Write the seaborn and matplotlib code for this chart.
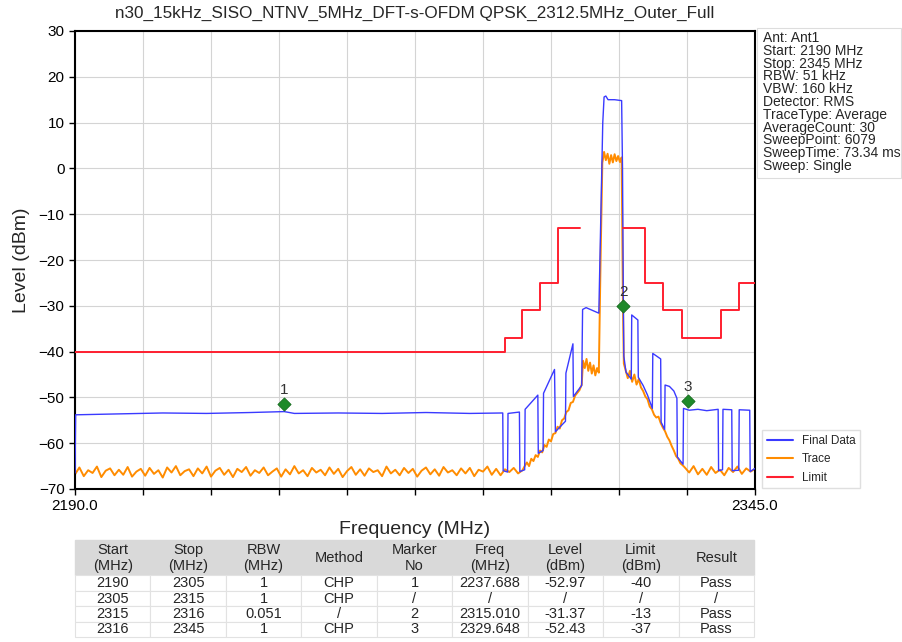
import matplotlib
matplotlib.use("Agg")
import matplotlib.pyplot as plt
from matplotlib import font_manager
from matplotlib.lines import Line2D
from matplotlib.patches import Rectangle
import numpy as np
import pandas as pd
import seaborn as sns

TITLE = "n30_15kHz_SISO_NTNV_5MHz_DFT-s-OFDM QPSK_2312.5MHz_Outer_Full"

# blue "Final Data" trace
final_freq = [2190.0, 2190.15, 2200.0, 2210.0, 2220.0, 2230.0, 2237.7, 2240.0, 2250.0, 2260.0, 2270.0, 2280.0, 2287.5,
              2287.6, 2288.6, 2288.7, 2291.3,
              2291.4, 2292.5, 2292.6, 2295.5,
              2295.6, 2296.7, 2296.8, 2299.3,
              2299.5, 2301.8, 2301.9, 2303.5,
              2303.6, 2305.5, 2305.7, 2306.5, 2308.9, 2309.4, 2310.3, 2310.6, 2311.0, 2311.5, 2313.0, 2314.6,
              2314.8, 2315.0, 2315.1, 2315.6, 2316.8,
              2316.9, 2318.3, 2318.4, 2319.5, 2320.5, 2321.6,
              2321.7, 2323.5, 2323.6, 2324.4,
              2324.5, 2325.5, 2326.5, 2327.2,
              2327.3, 2328.6,
              2328.7, 2330.0, 2332.0, 2334.0, 2336.6,
              2336.7, 2337.6, 2337.7, 2339.7,
              2339.8, 2341.3, 2341.4, 2343.8,
              2343.9, 2345.0]
final_level = [-66.5, -53.8, -53.6, -53.4, -53.5, -53.3, -53.1, -53.5, -53.4, -53.5, -53.3, -53.5, -53.4,
               -66.0, -66.3, -53.5, -53.2,
               -66.2, -65.8, -52.6, -49.5,
               -62.2, -61.6, -49.1, -43.9,
               -57.5, -55.2, -44.7, -38.3,
               -49.8, -47.4, -30.8, -30.4, -31.4, -31.6, 10.0, 15.6, 15.8, 15.0, 15.0, 14.8,
               0.0, -30.0, -41.0, -44.5, -46.0,
               -32.0, -33.1, -45.6, -47.4, -49.5, -52.4,
               -40.4, -41.6, -55.4, -57.0,
               -47.3, -47.6, -48.6, -50.2,
               -63.0, -64.6,
               -52.4, -52.8, -52.6, -52.9, -52.6,
               -66.0, -65.8, -52.6, -52.7,
               -66.0, -65.9, -52.7, -52.8,
               -66.2, -65.5]

# orange "Trace": noise floor left, skirts + channel, noise floor right
floor_left_freq = list(range(2190, 2293))
floor_left_level = [
    -66.8, -65.3, -67.2, -65.9, -66.5, -65.1, -67.4, -66.0, -65.5, -67.0,
    -65.8, -66.9, -65.2, -67.3, -66.2, -65.6, -67.1, -65.4, -66.7, -65.9,
    -67.5, -65.3, -66.4, -65.0, -67.0, -66.1, -65.7, -67.2, -65.5, -66.6,
    -65.1, -67.3, -66.0, -65.4, -66.9, -65.8, -67.4, -65.6, -66.3, -65.2,
    -67.1, -65.9, -66.5, -65.3, -67.0, -66.2, -65.5, -67.3, -65.7, -66.8,
    -65.0, -66.6, -65.9, -67.2, -65.4, -66.4, -65.8, -67.0, -65.3, -66.7,
    -65.6, -67.4, -66.1, -65.2, -66.9, -65.7, -67.1, -65.5, -66.3, -65.9,
    -67.2, -65.1, -66.6, -65.8, -67.0, -65.4, -66.5, -65.6, -67.3, -66.0,
    -65.3, -66.8, -65.7, -67.1, -65.2, -66.4, -65.9, -67.0, -65.5, -66.6,
    -65.4, -67.2, -65.8, -66.2, -65.1, -66.9, -65.6, -67.0, -65.7, -66.3,
    -65.4, -66.6, -65.9]
skirt_freq = [2292.5, 2293.0, 2293.5, 2294.0, 2294.5, 2295.0, 2295.5, 2296.0, 2296.5, 2297.0,
              2297.5, 2298.0, 2298.5, 2299.0, 2299.5, 2300.0, 2300.5, 2301.0, 2301.5, 2302.0,
              2302.5, 2303.0, 2303.5, 2304.0, 2304.5, 2305.0, 2305.5, 2305.8, 2306.2, 2306.6,
              2307.0, 2307.4, 2307.8, 2308.2, 2308.6, 2309.0, 2309.4, 2309.8, 2310.2, 2310.6,
              2311.0, 2311.4, 2311.8, 2312.2, 2312.6, 2313.0, 2313.4, 2313.8, 2314.2, 2314.6,
              2314.9, 2315.1, 2315.5, 2316.0, 2316.5, 2317.0, 2317.5, 2318.0, 2318.5, 2319.0,
              2319.5, 2320.0, 2320.5, 2321.0, 2321.5, 2322.0, 2322.5, 2323.0, 2323.5, 2324.0,
              2324.5, 2325.0, 2325.5, 2326.0, 2326.5, 2327.0, 2327.5, 2328.0, 2328.5]
skirt_level = [-65.0, -64.2, -65.0, -63.4, -63.9, -62.6, -63.0, -61.6, -62.0, -60.4,
               -60.8, -59.2, -59.6, -58.0, -57.8, -56.4, -56.8, -55.0, -54.6, -53.2,
               -52.8, -51.2, -51.0, -49.6, -49.0, -48.4, -47.2, -42.0, -43.6, -41.6,
               -44.2, -42.4, -44.8, -43.0, -45.2, -43.6, -44.6, -20.0, 1.2, 3.6,
               1.8, 3.2, 1.0, 2.9, 1.3, 3.1, 1.6, 2.7, 1.4, 2.4,
               -30.0, -42.6, -44.0, -45.8, -44.2, -46.6, -45.0, -47.2, -46.0, -47.8,
               -48.6, -49.8, -50.4, -52.0, -52.6, -53.8, -54.4, -54.2, -55.6, -56.6,
               -57.4, -58.6, -59.4, -60.6, -61.6, -62.8, -63.4, -64.4, -64.8]
floor_right_freq = list(range(2329, 2346))
floor_right_level = [-65.3, -66.4, -65.0, -66.8, -65.6, -66.9, -65.2, -66.5, -65.8, -67.0,
                     -65.4, -66.3, -65.1, -66.7, -65.5, -66.2, -65.6]

# limit mask (dBm), gap where the channel itself sits
limit_start = [2190, 2288, 2292, 2296, 2300, 2315, 2320, 2324, 2328.4, 2337.2, 2341.4]
limit_stop = [2288, 2292, 2296, 2300, 2305, 2320, 2324, 2328.4, 2337.2, 2341.4, 2345]
limit_level = [-40, -37, -31, -25, -13, -13, -25, -31, -37, -31, -25]

marker_no = ["1", "2", "3"]
marker_freq = [2237.688, 2315.010, 2329.648]
marker_level = [-51.4, -30.0, -50.8]

info_lines = ["Ant: Ant1", "Start: 2190 MHz", "Stop: 2345 MHz", "RBW: 51 kHz", "VBW: 160 kHz",
              "Detector: RMS", "TraceType: Average", "AverageCount: 30", "SweepPoint: 6079",
              "SweepTime: 73.34 ms", "Sweep: Single"]

table_header = ["Start\n(MHz)", "Stop\n(MHz)", "RBW\n(MHz)", "Method", "Marker\nNo",
                "Freq\n(MHz)", "Level\n(dBm)", "Limit\n(dBm)", "Result"]
col_start = ["2190", "2305", "2315", "2316"]
col_stop = ["2305", "2315", "2316", "2345"]
col_rbw = ["1", "1", "0.051", "1"]
col_method = ["CHP", "CHP", "/", "CHP"]
col_marker = ["1", "/", "2", "3"]
col_freq = ["2237.688", "/", "2315.010", "2329.648"]
col_level = ["-52.97", "/", "-31.37", "-52.43"]
col_limit = ["-40", "/", "-13", "-37"]
col_result = ["Pass", "/", "Pass", "Pass"]

BLUE = "#3a3aff"
ORANGE = "#ff8c00"
RED = "#ff1f2f"
W, H = 902, 642


def pick_font(*names):
    have = {f.name for f in font_manager.fontManager.ttflist}
    for n in names:
        if n in have:
            return n
    return "DejaVu Sans"


sns.set_theme(style="white")
plt.rcParams["font.family"] = ["Liberation Sans", "DejaVu Sans"]
narrow = pick_font("Liberation Sans Narrow", "Liberation Sans")

fig = plt.figure(figsize=(W / 100, H / 100), dpi=100)
ax = fig.add_axes([75 / W, 1 - 489 / H, 680 / W, 458 / H])

final_df = pd.DataFrame({"freq": final_freq, "level": final_level})
trace_df = pd.DataFrame({"freq": floor_left_freq + skirt_freq + floor_right_freq,
                         "level": floor_left_level + skirt_level + floor_right_level})

# limit as steps, a new part wherever the mask has a gap
lim_x, lim_y, lim_part = [], [], []
part = 0
for i, (a, b, v) in enumerate(zip(limit_start, limit_stop, limit_level)):
    if i > 0 and a != limit_stop[i - 1]:
        part += 1
    lim_x += [a, b]
    lim_y += [v, v]
    lim_part += [part, part]
limit_df = pd.DataFrame({"freq": lim_x, "level": lim_y, "part": lim_part})

sns.lineplot(data=trace_df, x="freq", y="level", ax=ax, color=ORANGE, lw=1.4,
             estimator=None, sort=False, legend=False, zorder=2)
sns.lineplot(data=final_df, x="freq", y="level", ax=ax, color=BLUE, lw=1.0,
             estimator=None, sort=False, legend=False, zorder=3)
sns.lineplot(data=limit_df, x="freq", y="level", units="part", ax=ax, color=RED, lw=1.4,
             estimator=None, sort=False, legend=False, zorder=4)

sns.scatterplot(x=marker_freq, y=marker_level, ax=ax, marker="D", s=45, color="#1f8a2a",
                edgecolor="#156b1e", linewidth=0.6, zorder=5, legend=False)
for n, f, lv in zip(marker_no, marker_freq, marker_level):
    ax.text(f, lv + 3.0, n, ha="center", va="center", fontsize=11, color="#333333", zorder=6)

ax.set_xlim(2190, 2345)
ax.set_ylim(-70, 30)
xt = np.linspace(2190, 2345, 11)
ax.set_xticks(xt)
ax.set_xticklabels(["2190.0"] + [""] * 9 + ["2345.0"])
ax.set_yticks(range(-70, 31, 10))
ax.grid(True, color="#d4d4d4", lw=0.8)
ax.tick_params(axis="both", direction="out", length=4, width=1, labelsize=11, colors="black",
               bottom=True, left=True)
for sp in ax.spines.values():
    sp.set_color("black")
    sp.set_linewidth(1.5)
ax.set_xlabel("Frequency (MHz)", fontsize=14)
ax.set_ylabel("Level (dBm)", fontsize=14)
ax.xaxis.set_label_coords(0.5, -0.07)
ax.yaxis.set_label_coords(-0.066, 0.5)

fig.text(415 / W, 1 - 13 / H, TITLE, ha="center", va="center", fontsize=12.3, family=narrow)

# info box
fig.patches.append(Rectangle((757 / W, 1 - 178 / H), 144 / W, 150 / H, transform=fig.transFigure,
                             fill=False, edgecolor="#dddddd", lw=0.8))
for i, line in enumerate(info_lines):
    fig.text(763 / W, 1 - (38 + 12.8 * i) / H, line, ha="left", va="center", fontsize=10)

handles = [Line2D([], [], color=BLUE, lw=1.5), Line2D([], [], color=ORANGE, lw=1.5),
           Line2D([], [], color=RED, lw=1.5)]
leg = fig.legend(handles, ["Final Data", "Trace", "Limit"], loc="upper left",
                 bbox_to_anchor=(762 / W, 1 - 430 / H), fontsize=8.5, frameon=True,
                 fancybox=False, edgecolor="#d8d8d8", handlelength=2.2, borderaxespad=0,
                 labelspacing=0.55)

# result table under the plot
tax = fig.add_axes([75 / W, 1 - 637 / H, 679 / W, 97 / H])
tax.axis("off")
rows = list(zip(col_start, col_stop, col_rbw, col_method, col_marker,
                col_freq, col_level, col_limit, col_result))
tbl = tax.table(cellText=rows, colLabels=table_header, cellLoc="center", bbox=[0, 0, 1, 1])
tbl.auto_set_font_size(False)
for (r, c), cell in tbl.get_celld().items():
    cell.get_text().set_fontfamily(narrow)
    cell.get_text().set_fontsize(10.5)
    if r == 0:
        cell.set_height(2.3)
        cell.set_facecolor("#d9d9d9")
        cell.set_edgecolor("#d9d9d9")
    else:
        cell.set_height(1.0)
        cell.set_facecolor("white")
        cell.set_edgecolor("#e2e2e2")
        cell.set_linewidth(0.8)

fig.savefig("out.png", dpi=100, facecolor="white")
